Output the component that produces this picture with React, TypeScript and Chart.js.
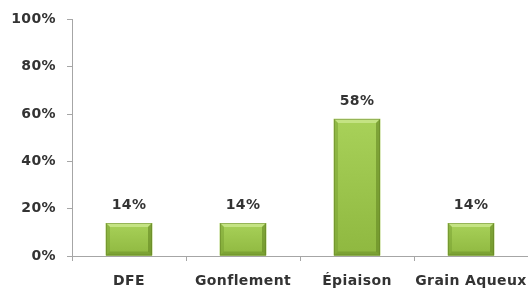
import React, { useEffect, useRef } from "react";
import { Chart, registerables } from "chart.js";

Chart.register(...registerables);

const categories = ["DFE", "Gonflement", "Épiaison", "Grain Aqueux"];
const values = [14, 14, 58, 14];
const yTicks = [0, 20, 40, 60, 80, 100];

const FONT = "'DejaVu Sans', Verdana, sans-serif";

const spacingPlugin = {
  id: "spacing",
  beforeDraw(chart: any) {
    chart.ctx.letterSpacing = "0.4px";
  },
  afterDraw(chart: any) {
    chart.ctx.letterSpacing = "0px";
  },
};

const bevelPlugin = {
  id: "bevel",
  afterDatasetsDraw(chart: any) {
    const ctx = chart.ctx;
    const meta = chart.getDatasetMeta(0);
    ctx.save();
    meta.data.forEach((bar: any, i: number) => {
      const { x, y, base, width } = bar.getProps(["x", "y", "base", "width"], true);
      const l = Math.round(x - width / 2);
      const r = Math.round(x + width / 2);
      const t = Math.round(y);
      const b = base;
      const e = 4;
      const g = ctx.createLinearGradient(0, t, 0, b);
      g.addColorStop(0, "#a8d159");
      g.addColorStop(1, "#8fb840");
      ctx.fillStyle = g;
      ctx.fillRect(l, t, r - l, b - t);
      ctx.fillStyle = "#c4e383";
      ctx.beginPath();
      ctx.moveTo(l, t);
      ctx.lineTo(r, t);
      ctx.lineTo(r - e, t + e);
      ctx.lineTo(l + e, t + e);
      ctx.closePath();
      ctx.fill();
      ctx.fillStyle = "rgba(120,160,50,0.5)";
      ctx.beginPath();
      ctx.moveTo(l, t);
      ctx.lineTo(l + e, t + e);
      ctx.lineTo(l + e, b - e);
      ctx.lineTo(l, b);
      ctx.closePath();
      ctx.fill();
      ctx.fillStyle = "rgba(100,135,35,0.6)";
      ctx.beginPath();
      ctx.moveTo(r, t);
      ctx.lineTo(r - e, t + e);
      ctx.lineTo(r - e, b - e);
      ctx.lineTo(r, b);
      ctx.closePath();
      ctx.fill();
      ctx.fillStyle = "rgba(100,135,35,0.45)";
      ctx.beginPath();
      ctx.moveTo(l, b);
      ctx.lineTo(l + e, b - e);
      ctx.lineTo(r - e, b - e);
      ctx.lineTo(r, b);
      ctx.closePath();
      ctx.fill();
      ctx.strokeStyle = "rgba(95,125,35,0.45)";
      ctx.lineWidth = 1;
      ctx.strokeRect(l + 0.5, t + 0.5, r - l - 1, b - t - 1);
      ctx.fillStyle = "#333333";
      ctx.font = `bold 14px ${FONT}`;
      ctx.textAlign = "center";
      ctx.textBaseline = "middle";
      ctx.fillText(values[i] + "%", x, t - 18);
    });
    ctx.restore();
  },
};

export default function App() {
  const ref = useRef<HTMLCanvasElement | null>(null);
  useEffect(() => {
    if (!ref.current) return;
    const chart = new Chart(ref.current, {
      type: "bar",
      data: {
        labels: categories,
        datasets: [
          {
            data: values,
            backgroundColor: "#9dc44a",
            borderWidth: 0,
            barPercentage: 0.41,
            categoryPercentage: 1,
          },
        ],
      },
      options: {
        animation: false,
        responsive: false,
        maintainAspectRatio: false,
        layout: { padding: { top: 19, right: 0, left: 0, bottom: 0 } },
        plugins: { legend: { display: false }, tooltip: { enabled: false } },
        scales: {
          x: {
            grid: {
              offset: true,
              drawOnChartArea: false,
              drawTicks: true,
              tickLength: 5,
              color: "#a6a6a6",
            },
            border: { display: true, color: "#a6a6a6" },
            ticks: {
              color: "#333333",
              font: { family: FONT, size: 14, weight: "bold" },
              padding: 12,
              maxRotation: 0,
              autoSkip: false,
            },
            afterFit: (s: any) => {
              s.height = 33;
              s.paddingLeft = 0;
              s.paddingRight = 0;
            },
          },
          y: {
            min: 0,
            max: 100,
            afterBuildTicks: (s: any) => {
              s.ticks = yTicks.map((v) => ({ value: v }));
            },
            grid: {
              drawOnChartArea: false,
              drawTicks: true,
              tickLength: 5,
              color: "#a6a6a6",
            },
            border: { display: true, color: "#a6a6a6" },
            ticks: {
              color: "#333333",
              font: { family: FONT, size: 14, weight: "bold" },
              padding: 11,
              callback: (v: any) => v + "%",
            },
            afterFit: (s: any) => {
              s.width = 72;
            },
          },
        },
      },
      plugins: [spacingPlugin, bevelPlugin],
    });
    return () => chart.destroy();
  }, []);
  return (
    <div style={{ position: "fixed", left: 0, top: 0, width: 528, height: 289, background: "#fff" }}>
      <canvas ref={ref} width={528} height={289} style={{ width: 528, height: 289, display: "block" }} />
    </div>
  );
}
